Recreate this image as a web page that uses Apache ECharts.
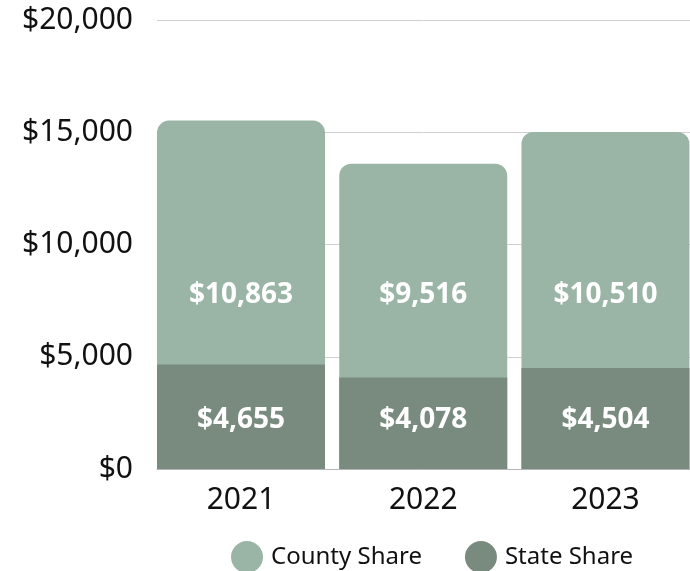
<!DOCTYPE html>
<html>
<head>
<meta charset="utf-8">
<script src="https://cdn.jsdelivr.net/npm/echarts@6/dist/echarts.min.js"></script>
<style>
  html, body { margin: 0; padding: 0; background: #fff; }
  #chart { width: 690px; height: 571px; }
</style>
</head>
<body>
<div id="chart"></div>
<script>
const years = ["2021", "2022", "2023"];
const stateShare = [4655, 4078, 4504];
const countyShare = [10863, 9516, 10510];
const yTicks = [0, 5000, 10000, 15000, 20000];

// labels sit on one line per series in the original, not at segment centers
const countyLabelLevel = 7750;
const stateLabelLevel = 2180;

const FONT = "Noto Sans";
const fmt = (v) => "$" + Number(v).toLocaleString("en-US");

const chart = echarts.init(document.getElementById("chart"));

const yMin = yTicks[0];
const yMax = yTicks[yTicks.length - 1];
const pos = years.map((y, i) => i);
// county bar is drawn full height behind the state bar (manual stack)
const totals = countyShare.map((v, i) => v + stateShare[i]);

function labelStyle(values) {
  return {
    show: true,
    position: "inside",
    color: "#ffffff",
    fontFamily: FONT,
    fontWeight: "bold",
    fontSize: 28,
    formatter: (p) => fmt(values[p.dataIndex]),
  };
}

function buildData(useOffsets) {
  const toY = (i, v) => chart.convertToPixel({ xAxisIndex: 0, yAxisIndex: 0 }, [i, v])[1];
  const county = totals.map((t, i) => {
    const item = { value: [pos[i], t] };
    if (useOffsets) item.label = { offset: [0, toY(i, countyLabelLevel) - toY(i, t / 2)] };
    return item;
  });
  const state = stateShare.map((v, i) => {
    const item = { value: [pos[i], v] };
    if (useOffsets) item.label = { offset: [0, toY(i, stateLabelLevel) - toY(i, v / 2)] };
    return item;
  });
  return { county, state };
}

chart.setOption({
  animation: false,
  textStyle: { fontFamily: FONT },
  grid: { left: 157, right: 0, top: 20, bottom: 102 },
  legend: {
    top: 536,
    left: 226,
    icon: "circle",
    itemWidth: 32,
    itemHeight: 32,
    itemGap: 43,
    data: ["County Share", "State Share"],
    textStyle: { fontFamily: FONT, fontSize: 24, color: "#111", padding: [0, 0, 0, 3] },
  },
  xAxis: {
    type: "value",
    // the bars fill the plot edge to edge, so the band is a bit wider than the grid
    min: -0.461,
    max: 2.464,
    splitLine: { show: false },
    axisTick: { show: false },
    axisLine: { lineStyle: { color: "#b5b5b5", width: 1 } },
    axisLabel: {
      color: "#111",
      fontSize: 30,
      margin: 16,
      fontFamily: FONT,
      customValues: pos,
      formatter: (v) => years[Math.round(v)],
    },
  },
  yAxis: {
    type: "value",
    min: yMin,
    max: yMax,
    interval: 5000,
    axisLine: { show: false },
    axisTick: { show: false },
    splitLine: { lineStyle: { color: "#d0d0d0", width: 1 } },
    axisLabel: {
      color: "#111",
      fontSize: 30,
      margin: 24,
      fontFamily: FONT,
      padding: [5, 0, 0, 0],
      formatter: (v) => fmt(v),
    },
  },
  series: [
    {
      name: "County Share",
      type: "bar",
      data: buildData(false).county,
      barWidth: 168,
      barGap: "-100%",
      itemStyle: { color: "#9ab5a6", borderRadius: [12, 12, 0, 0] },
      label: labelStyle(countyShare),
    },
    {
      name: "State Share",
      type: "bar",
      data: buildData(false).state,
      barWidth: 168,
      barGap: "-100%",
      itemStyle: { color: "#798b7e" },
      label: labelStyle(stateShare),
    },
  ],
});

const aligned = buildData(true);
chart.setOption({ series: [{ data: aligned.county }, { data: aligned.state }] });
</script>
</body>
</html>
